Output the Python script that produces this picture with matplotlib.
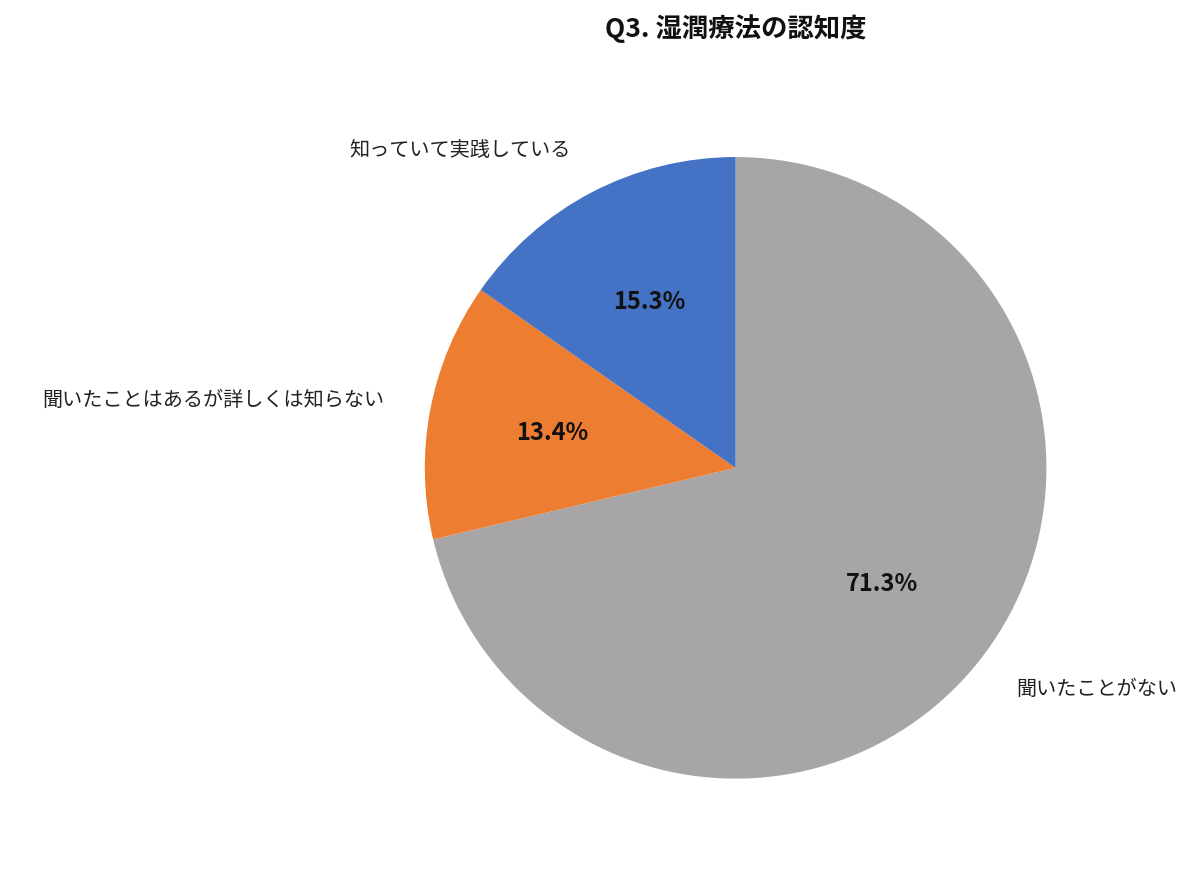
import matplotlib
matplotlib.use("Agg")
import matplotlib.pyplot as plt

plt.rcParams['font.family'] = ['Noto Sans CJK JP', 'DejaVu Sans']

labels = ["聞いたことがない", "聞いたことはあるが詳しくは知らない", "知っていて実践している"]
values = [71.3, 13.4, 15.3]
colors = ["#A7A5A8", "#ED7D31", "#4472C4"]

fig = plt.figure(figsize=(12, 8.72), dpi=100)
ax = fig.add_axes([0.354, 0.107, 0.518, 0.713])
wedges, texts, autotexts = ax.pie(values, labels=labels, colors=colors, startangle=90,
                                  counterclock=False, autopct=lambda p: f"{p:.1f}%",
                                  pctdistance=0.6, labeldistance=1.15,
                                  textprops=dict(fontsize=14.5, color="#222222"))
for t in autotexts:
    t.set_fontsize(17)
    t.set_fontweight("bold")
    t.set_color("#111111")
ax.set_xlim(-1, 1)
ax.set_ylim(-1, 1)
ax.set_aspect("equal")
fig.text(0.613, 0.967, "Q3. 湿潤療法の認知度", ha="center", va="center",
         fontsize=19, fontweight="bold", color="#111111")
fig.savefig("out.png", dpi=100, facecolor="white")
